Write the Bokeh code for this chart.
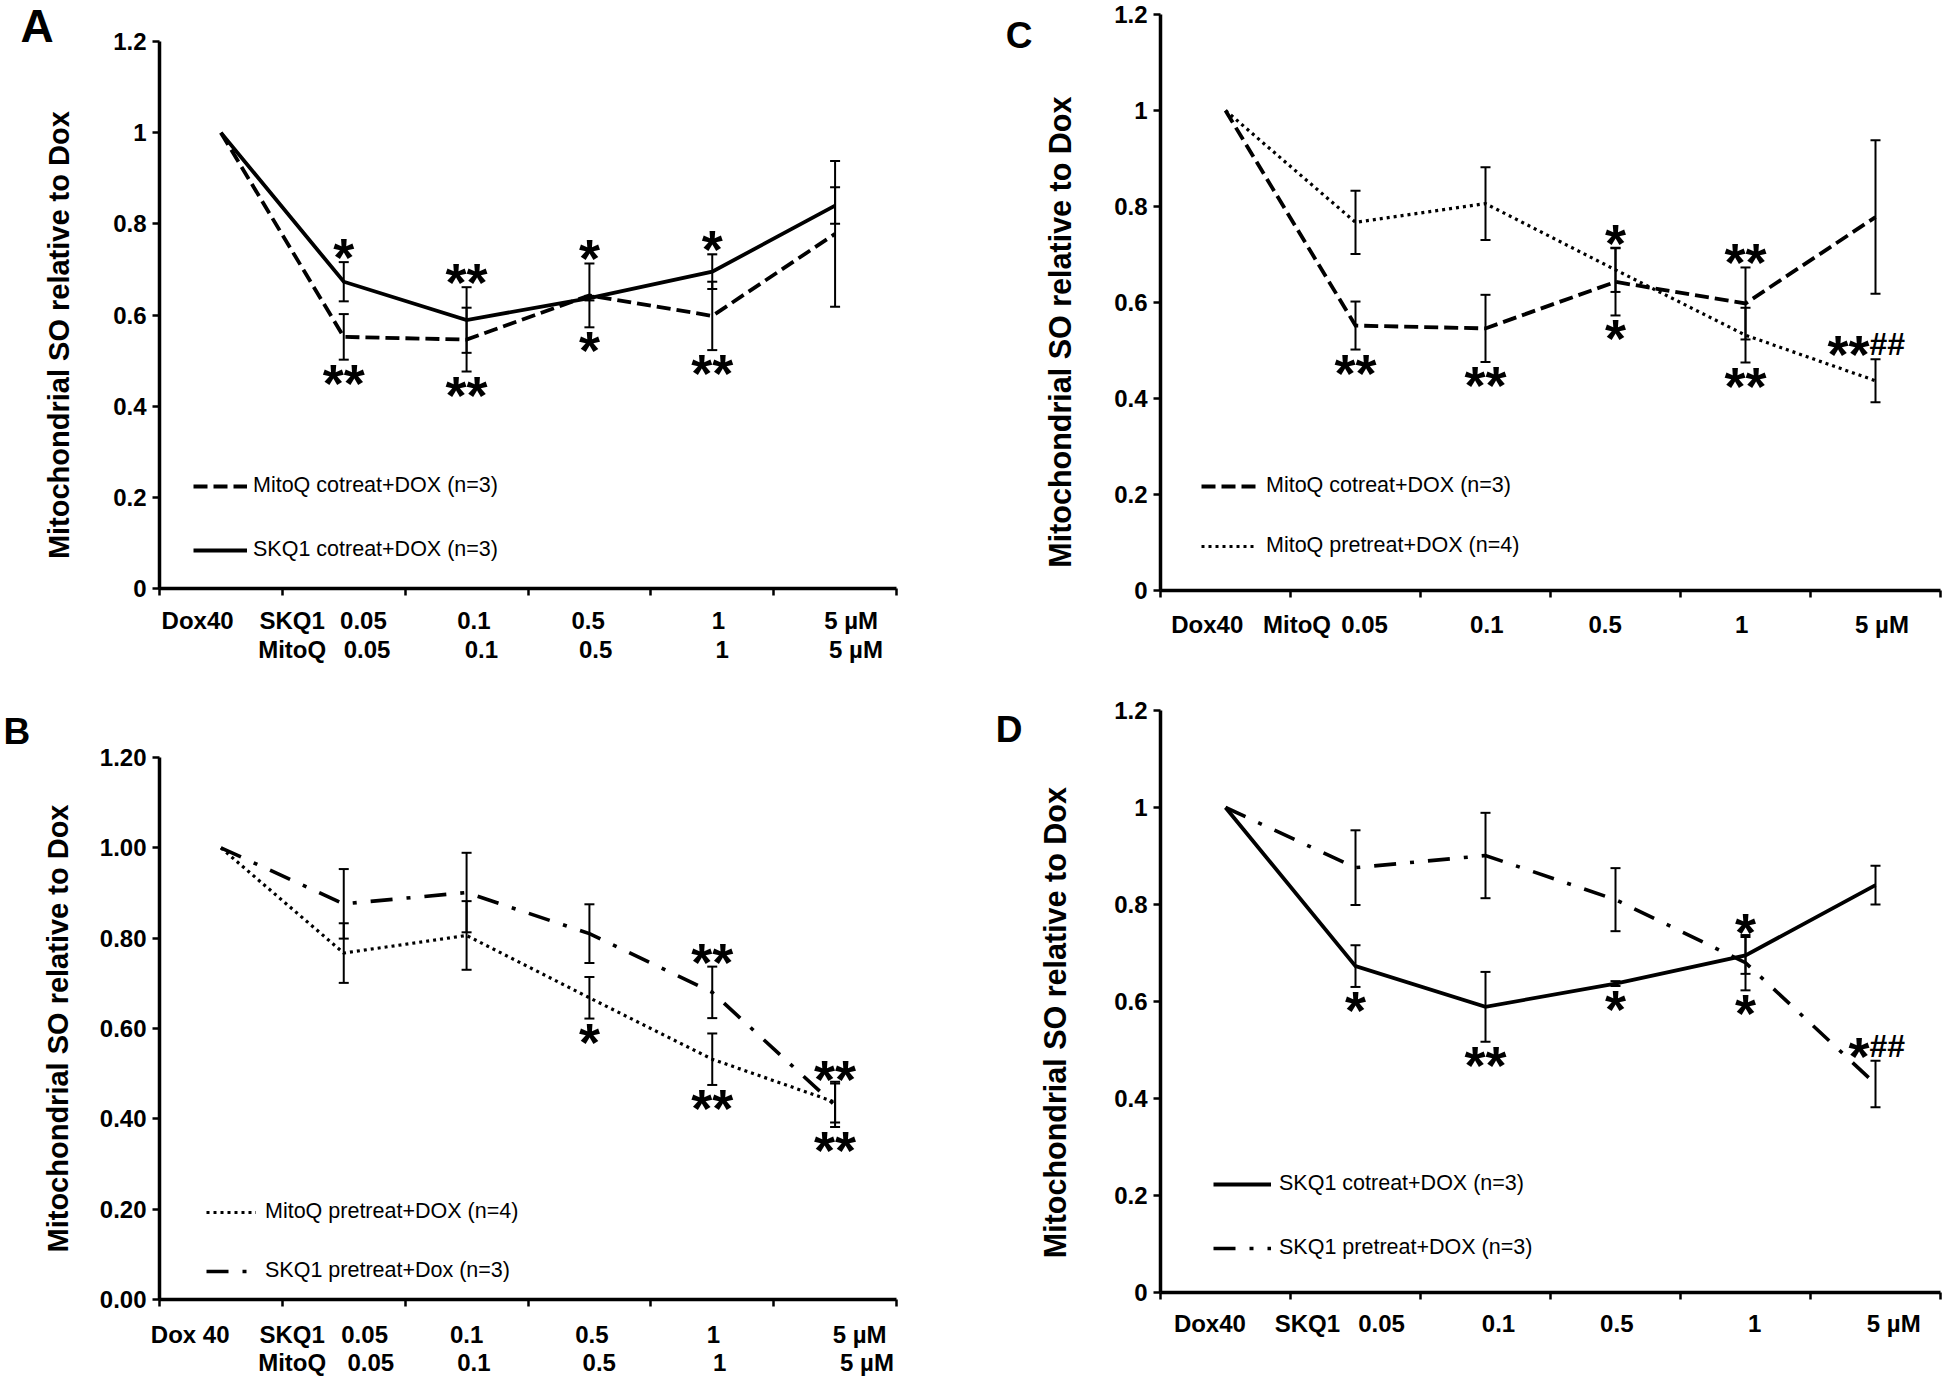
from bokeh.plotting import figure
from bokeh.models import (ColumnDataSource, Range1d, FixedTicker, LinearAxis, Whisker,
                          TeeHead, Legend, LegendItem)
from bokeh.layouts import row, column
from bokeh.embed import file_html
from bokeh.resources import INLINE
from bokeh.core.properties import value

FONT = "Liberation Sans"
NBSP = "\u00a0"

# ---------------- data ----------------
categories = ["Dox40", "0.05", "0.1", "0.5", "1", "5"]

mitoq_cotreat = [1.00, 0.552, 0.546, 0.643, 0.598, 0.778]
mitoq_cotreat_err = [0.0, 0.050, 0.070, 0.070, 0.075, 0.160]
skq1_cotreat = [1.00, 0.673, 0.589, 0.637, 0.695, 0.840]
skq1_cotreat_err = [0.0, 0.043, 0.072, 0.005, 0.038, 0.040]
mitoq_pretreat = [1.00, 0.767, 0.806, 0.668, 0.532, 0.437]
mitoq_pretreat_err = [0.0, 0.066, 0.076, 0.046, 0.057, 0.045]
skq1_pretreat = [1.00, 0.876, 0.901, 0.810, 0.680, 0.430]
skq1_pretreat_err = [0.0, 0.077, 0.088, 0.065, 0.057, 0.048]

y_ticks = [0, 0.2, 0.4, 0.6, 0.8, 1.0, 1.2]
y_labels_plain = ["0", "0.2", "0.4", "0.6", "0.8", "1", "1.2"]
y_labels_2dp = ["0.00", "0.20", "0.40", "0.60", "0.80", "1.00", "1.20"]

# x tick labels (row 1 and row 2)
xlab_A1 = ["Dox40", "SKQ1", "0.05", "0.1", "0.5", "1", "5 µM"]
xlab_A2 = ["MitoQ", "0.05", "0.1", "0.5", "1", "5 µM"]
xlab_B1 = ["Dox 40", "SKQ1", "0.05", "0.1", "0.5", "1", "5 µM"]
xlab_B2 = ["MitoQ", "0.05", "0.1", "0.5", "1", "5 µM"]
xlab_C1 = ["Dox40", "MitoQ", "0.05", "0.1", "0.5", "1", "5 µM"]
xlab_D1 = ["Dox40", "SKQ1", "0.05", "0.1", "0.5", "1", "5 µM"]

legend_A = ["MitoQ cotreat+DOX (n=3)", "SKQ1 cotreat+DOX (n=3)"]
legend_B = ["MitoQ pretreat+DOX (n=4)", "SKQ1 pretreat+Dox (n=3)"]
legend_C = ["MitoQ cotreat+DOX (n=3)", "MitoQ pretreat+DOX (n=4)"]
legend_D = ["SKQ1 cotreat+DOX (n=3)", "SKQ1 pretreat+DOX (n=3)"]

ylabel = "Mitochondrial SO relative to Dox"
ylabel_C = "Mitochondrial SO relative to  Dox"

# significance marks: (series, category index, text, side)
annot_A = [("skq1_co", 1, "*", "above"), ("mitoq_co", 1, "**", "below"),
           ("skq1_co", 2, "**", "above"), ("mitoq_co", 2, "**", "below"),
           ("mitoq_co", 3, "*", "above"), ("mitoq_co", 3, "*", "below"),
           ("skq1_co", 4, "*", "above"), ("mitoq_co", 4, "**", "below")]
annot_B = [("mitoq_pre", 3, "*", "below"), ("skq1_pre", 4, "**", "above"),
           ("mitoq_pre", 4, "**", "below"), ("skq1_pre", 5, "**", "above"),
           ("skq1_pre", 5, "**", "below")]
annot_C = [("mitoq_co", 1, "**", "below"), ("mitoq_co", 2, "**", "below"),
           ("mitoq_co", 3, "*", "above"), ("mitoq_co", 3, "*", "below"),
           ("mitoq_co", 4, "**", "above"), ("mitoq_pre", 4, "**", "below"),
           ("mitoq_pre", 5, "**##", "above")]
annot_D = [("skq1_co", 1, "*", "below"), ("skq1_co", 2, "**", "below"),
           ("skq1_co", 3, "*", "below"), ("skq1_co", 4, "*", "above"),
           ("skq1_pre", 4, "*", "below"), ("skq1_pre", 5, "*##", "above")]

SERIES = {
    "mitoq_co": (mitoq_cotreat, mitoq_cotreat_err),
    "skq1_co": (skq1_cotreat, skq1_cotreat_err),
    "mitoq_pre": (mitoq_pretreat, mitoq_pretreat_err),
    "skq1_pre": (skq1_pretreat, skq1_pretreat_err),
}

# ---------------- styles ----------------
STYLE = {
    "mitoq_co": dict(line_dash="14 6", line_width=3.8),
    "skq1_co": dict(line_dash="solid", line_width=3.8),
    "mitoq_pre": dict(line_dash="3 4", line_width=3.2),
    "skq1_pre": dict(line_dash="22 14 4 14", line_width=3.6),
}

TICK_FS = "24px"
STAR_FS = "54px"
HASH_FS = "32px"


def style_text_axis(ax, size=TICK_FS):
    ax.major_label_text_font = FONT
    ax.major_label_text_font_style = "bold"
    ax.major_label_text_font_size = size
    ax.major_label_text_color = "black"


def make_panel(width, height, borders, series_keys, legend_labels, legend_geom,
               xrow1, xpos1, xrow2, xpos2, ylabels, ytitle, ytitle_geom, annots,
               row1_standoff, row2_standoff, letter, letter_mode, letter_geom):
    bl, br, bt, bb = borders
    p = figure(width=width, height=height, x_range=Range1d(0, 6), y_range=Range1d(0, 1.2),
               output_backend="svg", toolbar_location=None,
               min_border_left=bl, min_border_right=br, min_border_top=bt, min_border_bottom=bb)
    if "frame_align" in p.properties():
        p.frame_align = False
    p.grid.visible = False
    p.outline_line_color = None
    p.background_fill_color = "white"
    p.border_fill_color = "white"

    # y axis
    pad, yfs, ystand = ytitle_geom
    ya = p.yaxis[0]
    ya.ticker = FixedTicker(ticks=y_ticks, minor_ticks=[])
    ya.major_label_overrides = {t: l for t, l in zip(y_ticks, ylabels)}
    ya.axis_line_width = 3.5
    ya.axis_line_color = "black"
    ya.major_tick_out = 7
    ya.major_tick_in = 0
    ya.major_tick_line_width = 2.5
    ya.major_tick_line_color = "black"
    ya.minor_tick_line_color = None
    ya.major_label_standoff = 6
    style_text_axis(ya)
    ya.axis_label = ytitle + NBSP * pad
    ya.axis_label_text_font = FONT
    ya.axis_label_text_font_style = "bold"
    ya.axis_label_text_font_size = yfs
    ya.axis_label_text_color = "black"
    ya.axis_label_standoff = ystand

    # x axis (row 1) with tick marks between categories
    xa = p.xaxis[0]
    xa.ticker = FixedTicker(ticks=xpos1, minor_ticks=[0, 1, 2, 3, 4, 5, 6])
    xa.major_label_overrides = {t: l for t, l in zip(xpos1, xrow1)}
    xa.axis_line_width = 3.5
    xa.axis_line_color = "black"
    xa.major_tick_line_color = None
    xa.major_tick_out = 0
    xa.major_tick_in = 0
    xa.minor_tick_out = 7
    xa.minor_tick_in = 0
    xa.minor_tick_line_width = 2.5
    xa.minor_tick_line_color = "black"
    xa.major_label_standoff = row1_standoff
    style_text_axis(xa)

    if xrow2:
        xb = LinearAxis(ticker=FixedTicker(ticks=xpos2, minor_ticks=[]))
        xb.major_label_overrides = {t: l for t, l in zip(xpos2, xrow2)}
        xb.axis_line_color = None
        xb.major_tick_line_color = None
        xb.minor_tick_line_color = None
        xb.major_tick_out = 0
        xb.major_tick_in = 0
        xb.major_label_standoff = row2_standoff
        style_text_axis(xb)
        p.add_layout(xb, "below")

    # panel letter
    if letter_mode == "title":
        off, so, fs = letter_geom
        p.title.text = letter
        p.title.align = "left"
        p.title.vertical_align = "top"
        p.title.offset = off
        p.title.standoff = so
        p.title.text_font = FONT
        p.title.text_font_style = "bold"
        p.title.text_font_size = fs
        p.title.text_color = "black"
    else:
        p.title.visible = False
        yv, so, fs = letter_geom
        la = LinearAxis(ticker=FixedTicker(ticks=[yv], minor_ticks=[]))
        la.major_label_overrides = {yv: letter}
        la.axis_line_color = None
        la.major_tick_line_color = None
        la.minor_tick_line_color = None
        la.major_tick_out = 0
        la.major_tick_in = 0
        la.major_label_standoff = so
        style_text_axis(la, fs)
        p.add_layout(la, "left")

    xs = [i + 0.5 for i in range(len(categories))]
    items = []
    for key, lab in zip(series_keys, legend_labels):
        vals, errs = SERIES[key]
        r = p.line(xs, vals, line_color="black", line_join="miter", **STYLE[key])
        src = ColumnDataSource(dict(
            x=xs[1:],
            upper=[v + e for v, e in zip(vals[1:], errs[1:])],
            lower=[v - e for v, e in zip(vals[1:], errs[1:])]))
        w = Whisker(source=src, base="x", upper="upper", lower="lower",
                    line_color="black", line_width=2,
                    upper_head=TeeHead(size=10, line_width=2, line_color="black"),
                    lower_head=TeeHead(size=10, line_width=2, line_color="black"))
        p.add_layout(w)
        items.append(LegendItem(label=lab, renderers=[r]))

    lx, ly, gw, sp, so = legend_geom
    leg = Legend(items=items, location=(lx, ly), orientation="vertical",
                 glyph_width=gw, glyph_height=24, label_height=24, spacing=sp,
                 padding=0, margin=0, border_line_color=None, background_fill_alpha=0,
                 label_standoff=so, label_text_font=FONT, label_text_font_size="21.5px",
                 label_text_color="black")
    p.add_layout(leg)

    # significance marks
    groups = {"above": dict(x=[], y=[], t=[]), "below": dict(x=[], y=[], t=[]),
              "above_r": dict(x=[], y=[], t=[]), "hash": dict(x=[], y=[], t=[])}
    for key, i, txt, side in annots:
        vals, errs = SERIES[key]
        y = vals[i] + errs[i] if side == "above" else vals[i] - errs[i]
        stars = txt.rstrip("#")
        hashes = txt[len(stars):]
        if hashes:
            groups["above_r"]["x"].append(xs[i]); groups["above_r"]["y"].append(y)
            groups["above_r"]["t"].append(stars)
            groups["hash"]["x"].append(xs[i]); groups["hash"]["y"].append(y)
            groups["hash"]["t"].append(hashes)
        else:
            groups[side]["x"].append(xs[i]); groups[side]["y"].append(y)
            groups[side]["t"].append(stars)
    common = dict(text_font=value(FONT), text_font_style="bold", text_color="black",
                  text_baseline="alphabetic")
    if groups["above"]["x"]:
        p.text(x="x", y="y", text="t", source=ColumnDataSource(groups["above"]),
               text_align="center", y_offset=-5, text_font_size=STAR_FS, **common)
    if groups["below"]["x"]:
        p.text(x="x", y="y", text="t", source=ColumnDataSource(groups["below"]),
               text_align="center", y_offset=23, text_font_size=STAR_FS, **common)
    if groups["above_r"]["x"]:
        p.text(x="x", y="y", text="t", source=ColumnDataSource(groups["above_r"]),
               text_align="right", x_offset=-6, y_offset=-5, text_font_size=STAR_FS, **common)
    if groups["hash"]["x"]:
        p.text(x="x", y="y", text="t", source=ColumnDataSource(groups["hash"]),
               text_align="left", x_offset=-6, y_offset=-15, text_font_size=HASH_FS, **common)
    return p


pA = make_panel(973, 690, (159, 77, 41, 102), ["mitoq_co", "skq1_co"], legend_A,
                (34, 26, 54, 39, 6),
                xlab_A1, [0.31, 1.08, 1.66, 2.56, 3.49, 4.55, 5.63],
                xlab_A2, [1.08, 1.69, 2.62, 3.55, 4.58, 5.67],
                y_labels_plain, ylabel, (5, "29px", 35), annot_A, 11, -1,
                "A", "title", (-139, -25, "46px"))

pC = make_panel(971, 690, (187, 4, 14, 100), ["mitoq_co", "mitoq_pre"], legend_C,
                (41, 32, 56, 35, 9),
                xlab_C1, [0.36, 1.05, 1.57, 2.51, 3.42, 4.47, 5.55],
                None, None,
                y_labels_plain, ylabel_C, (6, "30.5px", 34), annot_C, 13, 0,
                "C", "axis", (1.157, 8, "37px"))

pB = make_panel(973, 688, (159, 77, 67, 79), ["mitoq_pre", "skq1_pre"], legend_B,
                (47, 16, 50, 34, 9),
                xlab_B1, [0.25, 1.08, 1.67, 2.50, 3.52, 4.51, 5.70],
                xlab_B2, [1.08, 1.72, 2.56, 3.58, 4.56, 5.76],
                y_labels_2dp, ylabel, (0, "29px", 23), annot_B, 14, -2,
                "B", "title", (-156, 8, "37px"))

pD = make_panel(971, 688, (187, 4, 20, 86), ["skq1_co", "skq1_pre"], legend_D,
                (53, 32, 58, 39, 8),
                xlab_D1, [0.38, 1.13, 1.70, 2.60, 3.51, 4.57, 5.64],
                None, None,
                y_labels_plain, ylabel, (5, "30.5px", 39), annot_D, 10, 0,
                "D", "axis", (1.161, 13, "37px"))

layout = column(row(pA, pC), row(pB, pD))
open("out.html", "w").write(file_html(layout, INLINE))
